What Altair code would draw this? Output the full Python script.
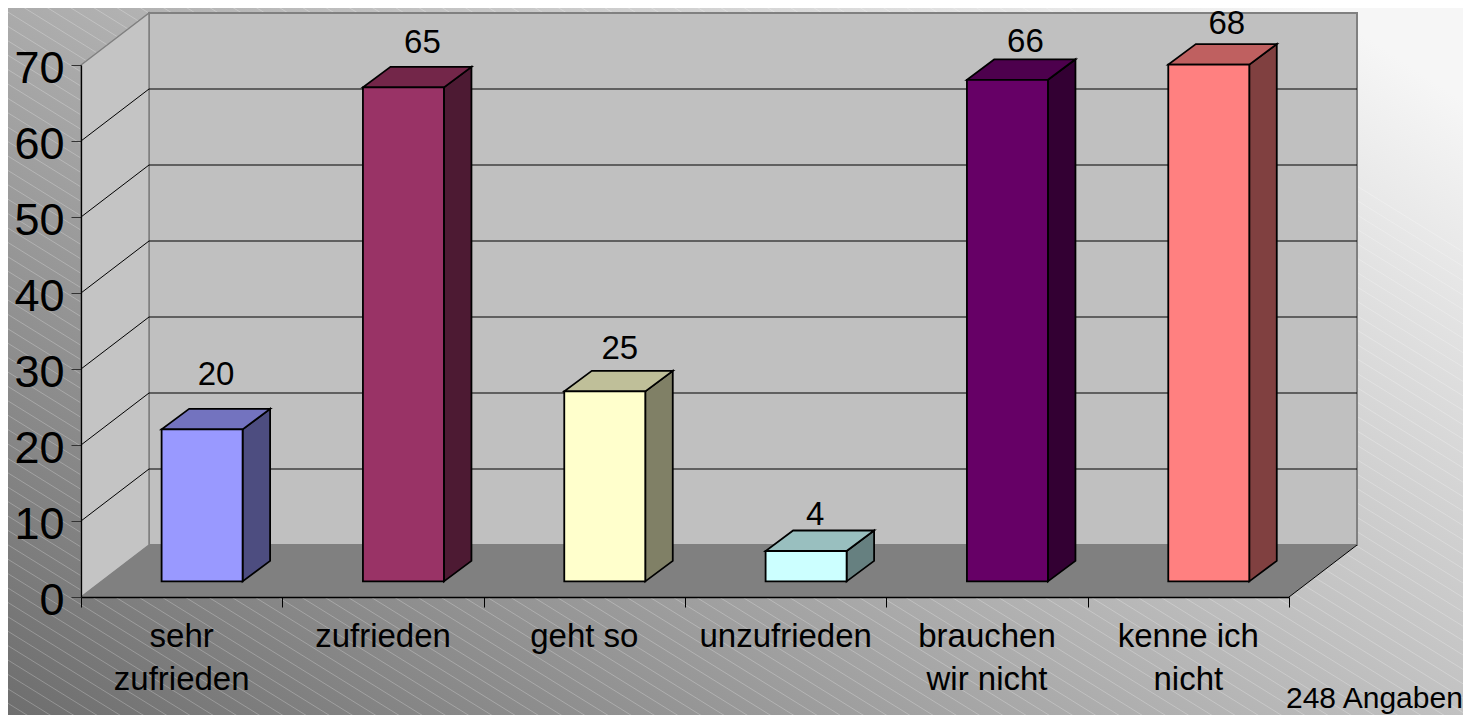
import altair as alt

# ---- chart values ----
categories = ["sehr\nzufrieden", "zufrieden", "geht so", "unzufrieden", "brauchen\nwir nicht", "kenne ich\nnicht"]
values = [20, 65, 25, 4, 66, 68]
y_ticks = [0, 10, 20, 30, 40, 50, 60, 70]
front_colors = ["#9999FF", "#993366", "#FFFFCC", "#CCFFFF", "#660066", "#FF8080"]
top_colors = ["#7373BF", "#732649", "#BFBF99", "#99BFBF", "#4D004D", "#BF6060"]
side_colors = ["#4D4D80", "#4D1A33", "#808066", "#668080", "#330033", "#804040"]
note = "248 Angaben"

# ---- layout (pixels) ----
W, H = 1208, 532
PAD = dict(left=73, top=57, right=174, bottom=118)
UX, UY = W / 6, H / 70            # pixels per category / per value unit
FONT = "Liberation Sans"
DEPTH_X, DEPTH_Y = 68, 52         # wall depth
BAR_DX, BAR_DY = 27.5, 20.5       # bar depth
BASE_Y = 15.6 / UY                # bars stand this far back on the floor
BAR_L, BAR_W = 80.6 / UX, 81 / UX
label_dx = [14, 19, 15, 9, 18, 18]        # value label offset from bar centre
label_rise = [44, 34, 32, 26, 28, 31]     # value label baseline above bar top

dx, dy = DEPTH_X / UX, DEPTH_Y / UY
bx, by = BAR_DX / UX, BAR_DY / UY

xs = alt.Scale(domain=[0, 6], nice=False, zero=False)
ys = alt.Scale(domain=[0, 70], nice=False, zero=False)

XA = alt.Axis(values=list(range(7)), labels=False, tickSize=10, tickColor="black", domainColor="black",
              grid=False, zindex=1, tickWidth=1, domainWidth=1.3, title=None)
YA = alt.Axis(values=y_ticks, labelFont=FONT, labelFontSize=45, labelColor="black", labelPadding=7,
              labelOffset=3, labelBaseline="middle", tickSize=10, tickColor="#333333", domainColor="black",
              grid=False, zindex=1, tickWidth=1, domainWidth=1.3, title=None)


def X(f):
    return alt.X(f, type="quantitative", scale=xs, axis=XA)


def Y(f):
    return alt.Y(f, type="quantitative", scale=ys, axis=YA)


X2 = lambda f: alt.X2(f)
Y2 = lambda f: alt.Y2(f)


def rows(items):
    return alt.Data(values=items)


# ---- page background ----
x_min, x_max = -PAD["left"] / UX, (W + PAD["right"]) / UX
y_max, y_min = PAD["top"] / UY + 70, -PAD["bottom"] / UY
grad = alt.LinearGradient(
    gradient="linear", x1=0, y1=1, x2=1.064, y2=0.218,
    stops=[alt.GradientStop(offset=0, color="#6e6e6e"), alt.GradientStop(offset=1, color="#f6f6f6")],
)
bg = alt.Chart(rows([{"a": x_min, "b": x_max, "c": y_min, "d": y_max}])).mark_rect(fill=grad).encode(
    x=X("a:Q"), x2=X2("b"), y=Y("c:Q"), y2=Y2("d"))

# hatch texture
SLOPE, STEP, C0 = 0.62, 14.4, 645.7 - 8 - PAD["top"]
hatch_rows = []
total_w = W + PAD["left"] + PAD["right"]
for k in range(-90, 50):
    c = C0 + k * STEP  # pixel y (plot coords) at page x = 0
    hatch_rows.append({"x": x_min, "x2": x_max, "y": 70 - c / UY, "y2": 70 - (c + SLOPE * total_w) / UY})
hatch = alt.Chart(rows(hatch_rows)).mark_rule(color="white", opacity=0.28, strokeWidth=0.9).encode(
    x=X("x:Q"), x2=X2("x2"), y=Y("y:Q"), y2=Y2("y2"))

# ---- walls and floor ----
wall_grey = "#808080"
back = alt.Chart(rows([{"a": dx, "b": 6 + dx, "c": 0 + dy, "d": 70 + dy}])).mark_rect(
    fill="#c0c0c0", stroke=wall_grey, strokeWidth=2).encode(x=X("a:Q"), x2=X2("b"), y=Y("c:Q"), y2=Y2("d"))
left_wall = alt.Chart(rows([{"x": 0, "y": 0, "y2": 70}, {"x": dx, "y": dy, "y2": 70 + dy}])).mark_area(
    fill="#c4c4c4", stroke=wall_grey, strokeWidth=1.5, opacity=1, orient="vertical").encode(
    x=X("x:Q"), y=Y("y:Q"), y2=Y2("y2"))
floor = alt.Chart(rows([{"y": 0, "x": 0, "x2": 6}, {"y": dy, "x": dx, "x2": 6 + dx}])).mark_area(
    fill=wall_grey, opacity=1, orient="horizontal").encode(y=Y("y:Q"), x=X("x:Q"), x2=X2("x2"))

grid_vals = [v for v in y_ticks if 0 < v < 70]
grid_side = alt.Chart(rows([{"x": 0, "x2": dx, "y": v, "y2": v + dy} for v in grid_vals])).mark_rule(
    color="#000000", strokeWidth=1).encode(x=X("x:Q"), x2=X2("x2"), y=Y("y:Q"), y2=Y2("y2"))
grid_back = alt.Chart(rows([{"x": dx, "x2": 6 + dx, "y": v + dy} for v in grid_vals])).mark_rule(
    color="#000000", strokeWidth=1.2).encode(x=X("x:Q"), x2=X2("x2"), y=Y("y:Q"))
floor_edge = alt.Chart(rows([{"x": 6, "x2": 6 + dx, "y": 0, "y2": dy}])).mark_rule(
    color="black", strokeWidth=1).encode(x=X("x:Q"), x2=X2("x2"), y=Y("y:Q"), y2=Y2("y2"))

# ---- bars ----
front_rows, side_rows, top_rows, label_rows, cat_rows = [], [], [], [], []
for i, v in enumerate(values):
    l, r = i + BAR_L, i + BAR_L + BAR_W
    front_rows.append({"a": l, "b": r, "c": BASE_Y, "d": BASE_Y + v, "col": front_colors[i], "s": f"b{i}"})
    side_rows += [
        {"x": r, "y": BASE_Y, "y2": BASE_Y + v, "col": side_colors[i], "s": f"b{i}"},
        {"x": r + bx, "y": BASE_Y + by, "y2": BASE_Y + v + by, "col": side_colors[i], "s": f"b{i}"},
    ]
    top_rows += [
        {"y": BASE_Y + v, "x": l, "x2": r, "col": top_colors[i], "s": f"b{i}"},
        {"y": BASE_Y + v + by, "x": l + bx, "x2": r + bx, "col": top_colors[i], "s": f"b{i}"},
    ]
    label_rows.append({"x": (l + r) / 2 + label_dx[i] / UX, "y": BASE_Y + v + label_rise[i] / UY, "t": str(v)})
    cat_rows.append({"x": i + 0.5, "y": -50 / UY, "t": categories[i]})

EDGE = dict(stroke="black", strokeWidth=1.8, strokeJoin="miter")
side = alt.Chart(rows(side_rows)).mark_area(opacity=1, orient="vertical", **EDGE).encode(
    x=X("x:Q"), y=Y("y:Q"), y2=Y2("y2"), fill=alt.Fill("col:N", scale=None), detail="s:N")
top = alt.Chart(rows(top_rows)).mark_area(opacity=1, orient="horizontal", **EDGE).encode(
    y=Y("y:Q"), x=X("x:Q"), x2=X2("x2"), fill=alt.Fill("col:N", scale=None), detail="s:N")
front = alt.Chart(rows(front_rows)).mark_rect(**EDGE).encode(
    x=X("a:Q"), x2=X2("b"), y=Y("c:Q"), y2=Y2("d"), fill=alt.Fill("col:N", scale=None))

# ---- text ----
val_text = alt.Chart(rows(label_rows)).mark_text(font=FONT, fontSize=33, color="black", baseline="alphabetic").encode(
    x=X("x:Q"), y=Y("y:Q"), text="t:N")
cat_text = alt.Chart(rows(cat_rows)).mark_text(
    font=FONT, fontSize=33, color="black", baseline="alphabetic", lineBreak="\n", lineHeight=43).encode(
    x=X("x:Q"), y=Y("y:Q"), text="t:N")
note_text = alt.Chart(rows([{"x": (1286 - 81) / UX, "y": (597 - 708) / UY, "t": note}])).mark_text(
    font=FONT, fontSize=30, color="black", baseline="alphabetic", align="left").encode(
    x=X("x:Q"), y=Y("y:Q"), text="t:N")

chart = alt.layer(
    bg, hatch, back, left_wall, floor, grid_side, grid_back, floor_edge, side, top, front, val_text, cat_text, note_text
).properties(width=W, height=H, padding=PAD, autosize="none").configure_view(stroke=None)

chart.save("out.html", embed_options={"renderer": "svg", "actions": False})
